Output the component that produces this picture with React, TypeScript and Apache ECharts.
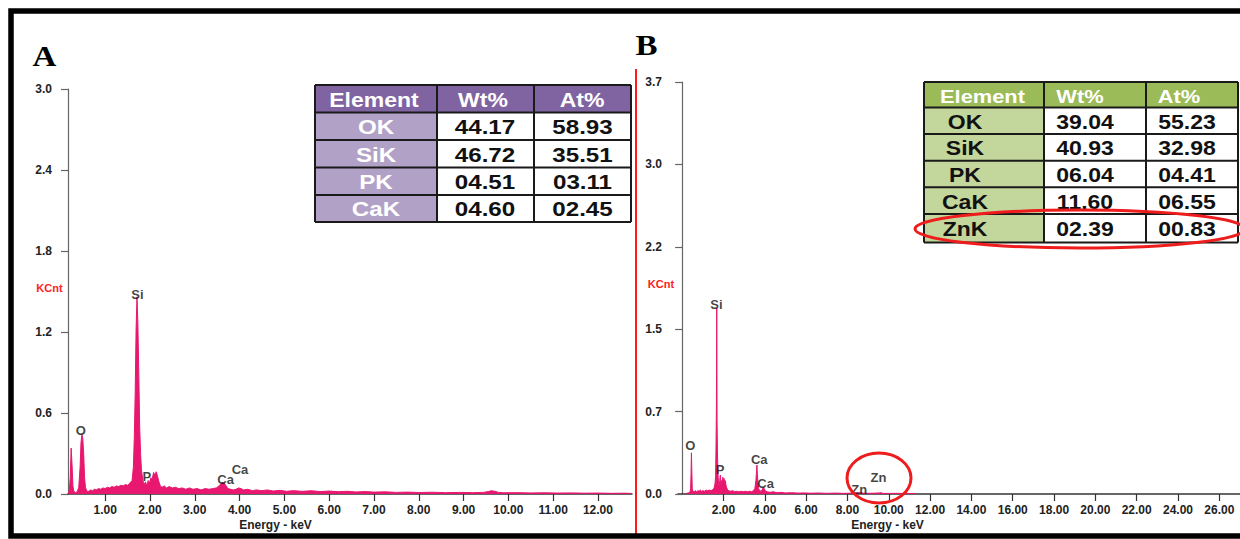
import React, { useEffect, useRef } from 'react';
import * as echarts from 'echarts';

// ---------- Panel A spectrum (Energy keV, KCnt) ----------
const energyA = [
  0.17, 0.2, 0.22, 0.24, 0.26, 0.28, 0.3, 0.34, 0.38, 0.41, 0.44, 0.46, 0.48, 0.5, 0.52, 0.54, 0.56, 0.59,
  0.63, 0.68, 0.72, 0.76, 0.8, 0.85, 0.9, 0.95, 1.0, 1.05, 1.1, 1.15, 1.2, 1.25, 1.3, 1.35, 1.4, 1.45, 1.5,
  1.55, 1.6, 1.63, 1.65, 1.67, 1.69, 1.71, 1.73, 1.75, 1.77, 1.79, 1.81, 1.84, 1.87, 1.9, 1.93, 1.96, 1.99,
  2.02, 2.05, 2.08, 2.11, 2.14, 2.17, 2.2, 2.23, 2.27, 2.32, 2.37, 2.43, 2.5, 2.57, 2.64, 2.72, 2.8, 2.88,
  2.96, 3.05, 3.14, 3.23, 3.32, 3.4, 3.48, 3.54, 3.58, 3.62, 3.66, 3.7, 3.74, 3.8, 3.86, 3.92, 3.98, 4.03,
  4.09, 4.18, 4.28, 4.38, 4.5, 4.62, 4.75, 4.9, 5.05, 5.2, 5.4, 5.6, 5.8, 6.0, 6.2, 6.4, 6.6, 6.8, 7.0,
  7.25, 7.5, 7.75, 8.0, 8.3, 8.6, 8.9, 9.2, 9.45, 9.55, 9.62, 9.7, 9.78, 9.9, 10.2, 10.5, 10.8, 11.1, 11.4,
  11.7, 12.0, 12.3, 12.6, 12.76,
];
const countsA = [
  0, 0.03, 0.12, 0.34, 0.22, 0.06, 0.02, 0.01, 0.02, 0.05, 0.2, 0.38, 0.44, 0.41, 0.3, 0.12, 0.05, 0.02,
  0.02, 0.03, 0.025, 0.035, 0.03, 0.04, 0.035, 0.045, 0.04, 0.05, 0.045, 0.055, 0.05, 0.06, 0.055, 0.065,
  0.06, 0.07, 0.065, 0.08, 0.1, 0.2, 0.42, 0.75, 1.22, 1.46, 1.26, 0.9, 0.5, 0.3, 0.18, 0.1, 0.07, 0.09,
  0.06, 0.1, 0.08, 0.12, 0.11, 0.16, 0.14, 0.165, 0.13, 0.09, 0.06, 0.05, 0.06, 0.045, 0.055, 0.045, 0.05,
  0.04, 0.045, 0.035, 0.045, 0.035, 0.04, 0.03, 0.04, 0.035, 0.04, 0.045, 0.06, 0.075, 0.085, 0.08, 0.06,
  0.04, 0.035, 0.03, 0.035, 0.045, 0.04, 0.03, 0.035, 0.025, 0.03, 0.025, 0.03, 0.022, 0.027, 0.02, 0.025,
  0.02, 0.024, 0.018, 0.022, 0.017, 0.02, 0.015, 0.018, 0.014, 0.016, 0.012, 0.014, 0.011, 0.013, 0.01,
  0.012, 0.01, 0.012, 0.018, 0.024, 0.02, 0.012, 0.009, 0.01, 0.008, 0.009, 0.007, 0.008, 0.006, 0.007,
  0.005, 0.006, 0.004,
];
const peakNamesA = ['O', 'Si', 'P', 'Ca', 'Ca'];
const peakEnergiesA = [0.455, 1.72, 1.93, 3.69, 4.01];
const peakLabelCountsA = [0.467, 1.48, 0.128, 0.104, 0.185];

// ---------- Panel B spectrum ----------
const energyB = [
  0.2, 0.3, 0.38, 0.41, 0.43, 0.45, 0.47, 0.49, 0.52, 0.58, 0.64, 0.7, 0.76, 0.82, 0.88, 0.94, 1.0, 1.08,
  1.16, 1.24, 1.32, 1.4, 1.48, 1.54, 1.59, 1.62, 1.645, 1.66, 1.675, 1.69, 1.71, 1.73, 1.76, 1.79, 1.82,
  1.85, 1.88, 1.91, 1.94, 1.97, 2.0, 2.03, 2.06, 2.09, 2.12, 2.15, 2.19, 2.25, 2.35, 2.45, 2.55, 2.65, 2.75,
  2.85, 2.95, 3.05, 3.15, 3.25, 3.35, 3.45, 3.52, 3.57, 3.6, 3.62, 3.64, 3.67, 3.7, 3.75, 3.82, 3.88, 3.93,
  3.98, 4.04, 4.12, 4.25, 4.4, 4.6, 4.8, 5.0, 5.3, 5.6, 5.9, 6.2, 6.6, 7.0, 7.4, 7.8, 8.2, 8.55, 8.63, 8.72,
  9.0, 9.3, 9.55, 9.62, 9.7, 10.0, 10.4, 10.8, 11.2, 11.3,
];
const countsB = [
  0.005, 0.01, 0.015, 0.05, 0.17, 0.37, 0.2, 0.05, 0.025, 0.02, 0.03, 0.02, 0.03, 0.025, 0.035, 0.025, 0.03,
  0.025, 0.035, 0.03, 0.035, 0.03, 0.04, 0.05, 0.09, 0.16, 0.5, 0.8, 1.67, 0.66, 0.38, 0.2, 0.1, 0.07, 0.12,
  0.17, 0.08, 0.12, 0.1, 0.15, 0.13, 0.14, 0.1, 0.12, 0.08, 0.06, 0.04, 0.03, 0.025, 0.03, 0.02, 0.025, 0.02,
  0.025, 0.02, 0.025, 0.02, 0.025, 0.02, 0.03, 0.05, 0.12, 0.2, 0.26, 0.18, 0.1, 0.05, 0.03, 0.025, 0.04,
  0.06, 0.045, 0.025, 0.02, 0.015, 0.02, 0.012, 0.015, 0.01, 0.012, 0.008, 0.01, 0.007, 0.009, 0.006, 0.008,
  0.006, 0.007, 0.01, 0.014, 0.008, 0.006, 0.007, 0.01, 0.012, 0.006, 0.005, 0.006, 0.004, 0.005, 0,
];
const peakNamesB = ['O', 'Si', 'P', 'Ca', 'Ca', 'Zn', 'Zn'];
const peakEnergiesB = [0.4, 1.66, 1.84, 3.73, 4.04, 9.5, 8.57];
const peakLabelCountsB = [0.44, 1.7, 0.216, 0.31, 0.09, 0.146, 0.036];

// ---------- Axis ticks ----------
const xTicksA = [1, 2, 3, 4, 5, 6, 7, 8, 9, 10, 11, 12];
const xTicksB = [2, 4, 6, 8, 10, 12, 14, 16, 18, 20, 22, 24, 26];

// ---------- Tables ----------
const tableHeaders = ['Element', 'Wt%', 'At%'];
const elementsA = ['OK', 'SiK', 'PK', 'CaK'];
const wtA = ['44.17', '46.72', '04.51', '04.60'];
const atA = ['58.93', '35.51', '03.11', '02.45'];
const elementsB = ['OK', 'SiK', 'PK', 'CaK', 'ZnK'];
const wtB = ['39.04', '40.93', '06.04', '11.60', '02.39'];
const atB = ['55.23', '32.98', '04.41', '06.55', '00.83'];

const SPEC = '#e8176f';
const FONT = "'Liberation Sans', Arial, sans-serif";

function buildTable(cfg: {
  cols: number[];
  rows: number[];
  elements: string[];
  wt: string[];
  at: string[];
  headerFill: string;
  elemFill: string;
  elemText: string;
  fontSize: number;
  headerFontSize: number;
  headerX: number[];
  textX: number[];
  scaleX: number;
}) {
  const els: any[] = [];
  const { cols, rows } = cfg;
  const x0 = cols[0];
  const x3 = cols[cols.length - 1];
  const yTop = rows[0];
  const yBot = rows[rows.length - 1];
  els.push({ type: 'rect', z: 100, shape: { x: x0, y: yTop, width: x3 - x0, height: rows[1] - yTop }, style: { fill: cfg.headerFill } });
  els.push({ type: 'rect', z: 100, shape: { x: x0, y: rows[1], width: cols[1] - x0, height: yBot - rows[1] }, style: { fill: cfg.elemFill } });
  els.push({ type: 'rect', z: 100, shape: { x: cols[1], y: rows[1], width: x3 - cols[1], height: yBot - rows[1] }, style: { fill: '#ffffff' } });
  rows.forEach((y) => {
    els.push({ type: 'line', z: 101, shape: { x1: x0, y1: y, x2: x3, y2: y }, style: { stroke: '#1a1a1a', lineWidth: 2 } });
  });
  cols.forEach((x) => {
    els.push({ type: 'line', z: 101, shape: { x1: x, y1: yTop, x2: x, y2: yBot }, style: { stroke: '#1a1a1a', lineWidth: 2 } });
  });
  const txt = (s: string, x: number, r: number, color: string, size: number) => {
    const cy = (rows[r] + rows[r + 1]) / 2 + 1;
    els.push({
      type: 'text',
      z: 102,
      x,
      y: cy,
      scaleX: cfg.scaleX,
      style: {
        text: s,
        x: 0,
        y: 0,
        fill: color,
        font: `bold ${size}px ${FONT}`,
        align: 'center',
        verticalAlign: 'middle',
      },
    });
  };
  tableHeaders.forEach((h, c) => txt(h, cfg.headerX[c], 0, '#ffffff', cfg.headerFontSize));
  cfg.elements.forEach((e, i) => {
    txt(e, cfg.textX[0], i + 1, cfg.elemText, cfg.fontSize);
    txt(cfg.wt[i], cfg.textX[1], i + 1, '#111111', cfg.fontSize);
    txt(cfg.at[i], cfg.textX[2], i + 1, '#111111', cfg.fontSize);
  });
  return els;
}

export default function App() {
  const ref = useRef<HTMLDivElement>(null);
  useEffect(() => {
    const chart = echarts.init(ref.current!, null, { renderer: 'svg' });
    const axisLabelStyle = { fontFamily: FONT, fontWeight: 'bold' as const, fontSize: 12, color: '#222' };
    const peakLabel = { show: true, position: 'inside', formatter: '{b}', fontFamily: FONT, fontWeight: 'bold', fontSize: 13, color: '#111' };
    const option: any = {
      animation: false,
      backgroundColor: '#ffffff',
      grid: [
        { left: 68, top: 89, width: 564, bottom: 45, containLabel: false },
        { left: 678, top: 82, right: -24, bottom: 45, containLabel: false },
      ],
      xAxis: [
        {
          type: 'value',
          gridIndex: 0,
          min: 0.17,
          max: 12.76,
          splitLine: { show: false },
          axisLine: { show: true, lineStyle: { color: '#333', width: 1.5 } },
          axisTick: { show: true, customValues: xTicksA, length: 7, lineStyle: { color: '#333', width: 1.2 } },
          axisLabel: { ...axisLabelStyle, customValues: xTicksA, margin: 10, formatter: (v: number) => v.toFixed(2) },
        },
        {
          type: 'value',
          gridIndex: 1,
          min: -0.2,
          max: 27,
          splitLine: { show: false },
          axisLine: { show: true, lineStyle: { color: '#333', width: 1.5 } },
          axisTick: { show: true, customValues: xTicksB, length: 7, lineStyle: { color: '#333', width: 1.2 } },
          axisLabel: { ...axisLabelStyle, customValues: xTicksB, margin: 10, formatter: (v: number) => v.toFixed(2) },
        },
      ],
      yAxis: [
        {
          type: 'value',
          gridIndex: 0,
          min: 0,
          max: 3,
          interval: 0.6,
          splitLine: { show: false },
          axisLine: { show: true, lineStyle: { color: '#666', width: 1.2 } },
          axisTick: { show: true, length: 7, lineStyle: { color: '#666', width: 1.2 } },
          axisLabel: { ...axisLabelStyle, margin: 16, formatter: (v: number) => v.toFixed(1) },
        },
        {
          type: 'value',
          gridIndex: 1,
          min: 0,
          max: 3.7,
          interval: 0.74,
          splitLine: { show: false },
          axisLine: { show: true, lineStyle: { color: '#666', width: 1.2 } },
          axisTick: { show: true, length: 7, lineStyle: { color: '#666', width: 1.2 } },
          axisLabel: { ...axisLabelStyle, margin: 16, formatter: (v: number) => v.toFixed(1) },
        },
      ],
      series: [
        {
          type: 'line',
          xAxisIndex: 0,
          yAxisIndex: 0,
          showSymbol: false,
          data: energyA.map((e, i) => [e, countsA[i]]),
          lineStyle: { color: SPEC, width: 1 },
          areaStyle: { color: SPEC, opacity: 1 },
          z: 3,
        },
        {
          type: 'line',
          xAxisIndex: 1,
          yAxisIndex: 1,
          showSymbol: false,
          data: energyB.map((e, i) => [e, countsB[i]]),
          lineStyle: { color: SPEC, width: 1 },
          areaStyle: { color: SPEC, opacity: 1 },
          z: 3,
        },
        {
          type: 'scatter',
          xAxisIndex: 0,
          yAxisIndex: 0,
          symbolSize: 0,
          data: peakNamesA.map((n, i) => ({ name: n, value: [peakEnergiesA[i], peakLabelCountsA[i]] })),
          label: peakLabel,
          z: 5,
        },
        {
          type: 'scatter',
          xAxisIndex: 1,
          yAxisIndex: 1,
          symbolSize: 0,
          data: peakNamesB.map((n, i) => ({ name: n, value: [peakEnergiesB[i], peakLabelCountsB[i]] })),
          label: peakLabel,
          z: 5,
        },
      ],
      graphic: {
        elements: [
          { type: 'rect', z: 120, shape: { x: 11, y: 11, width: 1300, height: 525 }, style: { fill: 'none', stroke: '#000', lineWidth: 5.5 } },
          { type: 'line', z: 110, shape: { x1: 636, y1: 69, x2: 636, y2: 536 }, style: { stroke: '#ff1a1a', lineWidth: 2 } },
          { type: 'text', z: 110, x: 44.5, y: 56, scaleX: 1.1, style: { text: 'A', x: 0, y: 0, align: 'center', verticalAlign: 'middle', font: "bold 30px 'Liberation Serif', 'Times New Roman', serif", fill: '#000' } },
          { type: 'text', z: 110, x: 646.5, y: 45, scaleX: 1.1, style: { text: 'B', x: 0, y: 0, align: 'center', verticalAlign: 'middle', font: "bold 30px 'Liberation Serif', 'Times New Roman', serif", fill: '#000' } },
          { type: 'text', z: 110, x: 49.5, y: 288, style: { text: 'KCnt', x: 0, y: 0, align: 'center', verticalAlign: 'middle', font: `bold 11px ${FONT}`, fill: '#ff2020' } },
          { type: 'text', z: 110, x: 661, y: 284, style: { text: 'KCnt', x: 0, y: 0, align: 'center', verticalAlign: 'middle', font: `bold 11px ${FONT}`, fill: '#ff2020' } },
          { type: 'text', z: 110, x: 275.5, y: 525, style: { text: 'Energy - keV', x: 0, y: 0, align: 'center', verticalAlign: 'middle', font: `bold 12px ${FONT}`, fill: '#222' } },
          { type: 'text', z: 110, x: 887.5, y: 525, style: { text: 'Energy - keV', x: 0, y: 0, align: 'center', verticalAlign: 'middle', font: `bold 12px ${FONT}`, fill: '#222' } },
          ...buildTable({
            cols: [315, 437, 534, 631],
            rows: [85, 112.5, 140, 167.5, 195, 222],
            elements: elementsA,
            wt: wtA,
            at: atA,
            headerFill: '#8064a2',
            elemFill: '#b2a1c7',
            elemText: '#ffffff',
            fontSize: 21,
            headerFontSize: 20,
            headerX: [374, 483, 582],
            textX: [376, 485, 582.5],
            scaleX: 1.15,
          }),
          ...buildTable({
            cols: [924, 1044, 1146, 1238],
            rows: [82, 107.5, 134, 160.7, 187.3, 214, 242.5],
            elements: elementsB,
            wt: wtB,
            at: atB,
            headerFill: '#9bbb59',
            elemFill: '#c3d69b',
            elemText: '#111111',
            fontSize: 20,
            headerFontSize: 19,
            headerX: [982.5, 1080, 1179],
            textX: [965, 1085, 1187],
            scaleX: 1.15,
          }),
          { type: 'ellipse', z: 115, shape: { cx: 1080, cy: 229, rx: 165, ry: 19 }, style: { fill: 'none', stroke: '#ee1c1c', lineWidth: 3 } },
          { type: 'ellipse', z: 115, shape: { cx: 879, cy: 478, rx: 32, ry: 25 }, style: { fill: 'none', stroke: '#ee1c1c', lineWidth: 3 } },
        ],
      },
    };
    chart.setOption(option);
    return () => chart.dispose();
  }, []);
  return (
    <div
      ref={ref}
      style={{ position: 'fixed', left: 0, top: 0, width: 1240, height: 539, background: '#fff' }}
    />
  );
}
